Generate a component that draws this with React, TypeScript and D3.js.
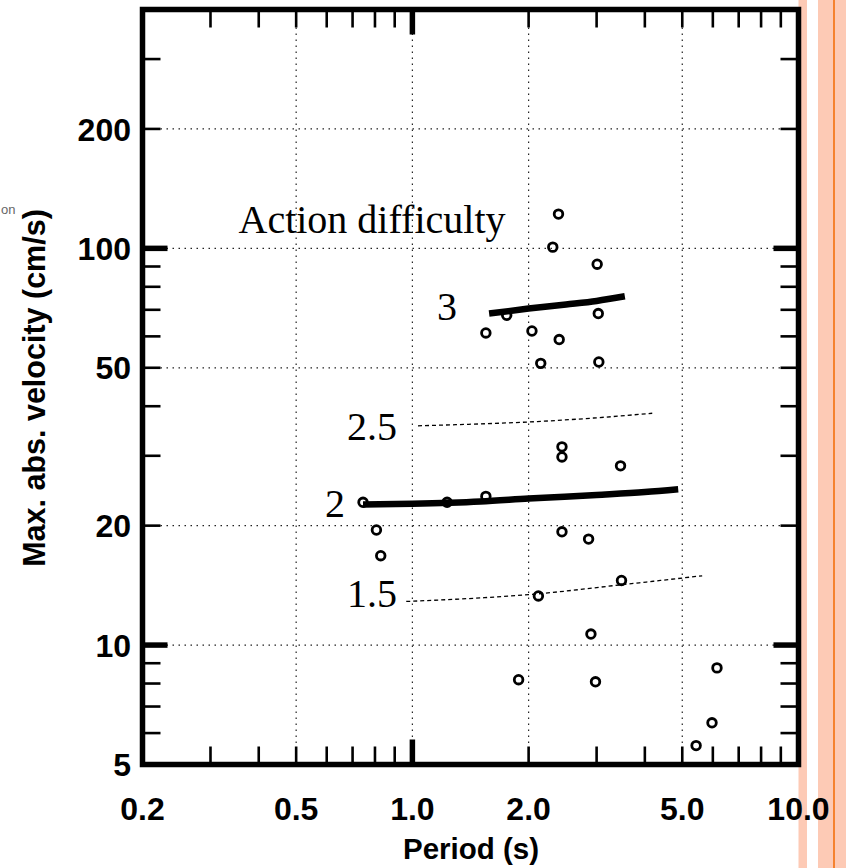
import React, { useRef, useEffect } from 'react';
import * as d3 from 'd3';

// measured points (period s, max abs velocity cm/s)
const periods = [2.39, 2.31, 3.01, 1.755, 3.03, 1.55, 2.04, 2.4, 2.15, 3.04,
  2.44, 2.44, 3.46, 0.745, 1.23, 1.55, 0.807, 0.828, 2.44, 2.86,
  3.48, 2.12, 2.9, 1.884, 2.98, 6.15, 5.97, 5.43];
const velocities = [122, 100.7, 91.2, 67.8, 68.5, 61.2, 61.9, 58.9, 51.3, 51.7,
  31.6, 29.8, 28.3, 22.9, 22.9, 23.7, 19.5, 16.8, 19.3, 18.5,
  14.55, 13.3, 10.66, 8.18, 8.08, 8.76, 6.37, 5.58];

// action difficulty curves
const curve3P = [1.58, 2.0, 2.5, 3.0, 3.55];
const curve3V = [68.5, 70.5, 72.2, 73.7, 75.7];
const curve25P = [1.034, 1.5, 2.0, 3.0, 4.18];
const curve25V = [35.7, 36.1, 36.5, 37.4, 38.4];
const curve2P = [0.745, 1.0, 1.5, 2.0, 3.0, 4.0, 4.88];
const curve2V = [22.6, 22.7, 23.0, 23.4, 23.9, 24.3, 24.7];
const curve15P = [0.964, 1.5, 2.0, 3.5, 5.63];
const curve15V = [12.88, 13.15, 13.4, 14.2, 14.95];

const xTickValues = [0.2, 0.5, 1, 2, 5, 10];
const xTickLabels = ['0.2', '0.5', '1.0', '2.0', '5.0', '10.0'];
const yTickValues = [5, 10, 20, 50, 100, 200];
const yTickLabels = ['5', '10', '20', '50', '100', '200'];
const xGrid = [0.5, 1, 2, 5];
const yGrid = [10, 20, 50, 100, 200];
const xMajor = [1];
const yMajor = [10, 100];

export default function App() {
  const ref = useRef<SVGSVGElement>(null);

  useEffect(() => {
    const width = 846;
    const height = 868;
    const left = 142.5, right = 798.5, top = 9.5, bottom = 764.5;

    const x = d3.scaleLog().domain([0.2, 10]).range([left, right]);
    const y = d3.scaleLog().domain([5, 400]).range([bottom, top]);

    const svg = d3.select(ref.current);
    svg.selectAll('*').remove();
    svg.attr('width', width).attr('height', height);

    // peach strips on the right
    svg.append('rect').attr('x', 798.5).attr('y', 0).attr('width', 8.5).attr('height', height).attr('fill', '#fdcab5');
    svg.append('rect').attr('x', 818).attr('y', 0).attr('width', 28).attr('height', height).attr('fill', '#fdcab5');
    svg.append('line').attr('x1', 834).attr('x2', 834).attr('y1', 0).attr('y2', height)
      .attr('stroke', '#f5822f').attr('stroke-width', 2);

    // dotted grid
    const grid = svg.append('g').attr('stroke', '#222').attr('stroke-width', 1.2)
      .attr('stroke-dasharray', '1.5,4.5');
    grid.selectAll('.gx').data(xGrid).join('line')
      .attr('x1', d => x(d)).attr('x2', d => x(d)).attr('y1', top).attr('y2', bottom);
    grid.selectAll('.gy').data(yGrid).join('line')
      .attr('y1', d => y(d)).attr('y2', d => y(d)).attr('x1', left).attr('x2', right);

    // observations
    svg.append('g').selectAll('circle').data(periods).join('circle')
      .attr('cx', d => x(d)).attr('cy', (d, i) => y(velocities[i]))
      .attr('r', 4.3).attr('fill', 'none').attr('stroke', '#000').attr('stroke-width', 2.8);

    const line = d3.line<[number, number]>()
      .x(d => x(d[0])).y(d => y(d[1])).curve(d3.curveMonotoneX);
    const curves = [
      { p: curve3P, v: curve3V, dashed: false },
      { p: curve25P, v: curve25V, dashed: true },
      { p: curve2P, v: curve2V, dashed: false },
      { p: curve15P, v: curve15V, dashed: true },
    ];
    curves.forEach(c => {
      svg.append('path')
        .attr('d', line(c.p.map((p, i) => [p, c.v[i]] as [number, number])))
        .attr('fill', 'none').attr('stroke', '#000')
        .attr('stroke-width', c.dashed ? 1.3 : 6.5)
        .attr('stroke-dasharray', c.dashed ? '4,3' : null);
    });

    // frame
    svg.append('rect').attr('x', left).attr('y', top)
      .attr('width', right - left).attr('height', bottom - top)
      .attr('fill', 'none').attr('stroke', '#000').attr('stroke-width', 5.5);

    // ticks on all four sides
    const ticks = svg.append('g').attr('stroke', '#000');
    x.ticks().forEach(t => {
      const major = xMajor.includes(t);
      const len = major ? 25 : 18;
      const sw = major ? 5.5 : 2.6;
      ticks.append('line').attr('x1', x(t)).attr('x2', x(t)).attr('y1', bottom).attr('y2', bottom - len).attr('stroke-width', sw);
      ticks.append('line').attr('x1', x(t)).attr('x2', x(t)).attr('y1', top).attr('y2', top + len).attr('stroke-width', sw);
    });
    y.ticks().forEach(t => {
      const major = yMajor.includes(t);
      const len = major ? 25 : 18;
      const sw = major ? 5.5 : 2.6;
      ticks.append('line').attr('y1', y(t)).attr('y2', y(t)).attr('x1', left).attr('x2', left + len).attr('stroke-width', sw);
      ticks.append('line').attr('y1', y(t)).attr('y2', y(t)).attr('x1', right).attr('x2', right - len).attr('stroke-width', sw);
    });

    const sans = '"Liberation Sans", Arial, sans-serif';
    const serif = '"Liberation Serif", "Times New Roman", serif';

    svg.append('g').selectAll('text').data(xTickValues).join('text')
      .attr('x', d => x(d)).attr('y', 820)
      .attr('text-anchor', 'middle').attr('font-family', sans).attr('font-weight', 'bold')
      .attr('font-size', 32).text((d, i) => xTickLabels[i]);
    svg.append('g').selectAll('text').data(yTickValues).join('text')
      .attr('x', 131).attr('y', d => y(d) + 11.7)
      .attr('text-anchor', 'end').attr('font-family', sans).attr('font-weight', 'bold')
      .attr('font-size', 32).text((d, i) => yTickLabels[i]);

    svg.append('text').attr('x', 471).attr('y', 859).attr('text-anchor', 'middle')
      .attr('font-family', sans).attr('font-weight', 'bold').attr('font-size', 29.5)
      .text('Period (s)');
    svg.append('text').attr('transform', 'translate(45,388) rotate(-90)').attr('text-anchor', 'middle')
      .attr('font-family', sans).attr('font-weight', 'bold').attr('font-size', 30.5)
      .text('Max. abs. velocity (cm/s)');

    svg.append('text').attr('x', 1).attr('y', 214).attr('text-anchor', 'start')
      .attr('font-family', sans).attr('font-size', 13).attr('fill', '#666').text('on');

    // annotations
    const notes = [
      { t: 'Action difficulty', x: 372, y: 233, anchor: 'middle' },
      { t: '3', x: 457, y: 320, anchor: 'end' },
      { t: '2.5', x: 397, y: 440, anchor: 'end' },
      { t: '2', x: 345, y: 516.7, anchor: 'end' },
      { t: '1.5', x: 397, y: 606.7, anchor: 'end' },
    ];
    notes.forEach(n => {
      svg.append('text').attr('x', n.x).attr('y', n.y).attr('text-anchor', n.anchor)
        .attr('font-family', serif).attr('font-size', 40).text(n.t);
    });
  }, []);

  return <svg ref={ref} style={{ position: 'absolute', left: 0, top: 0, display: 'block' }} />;
}
